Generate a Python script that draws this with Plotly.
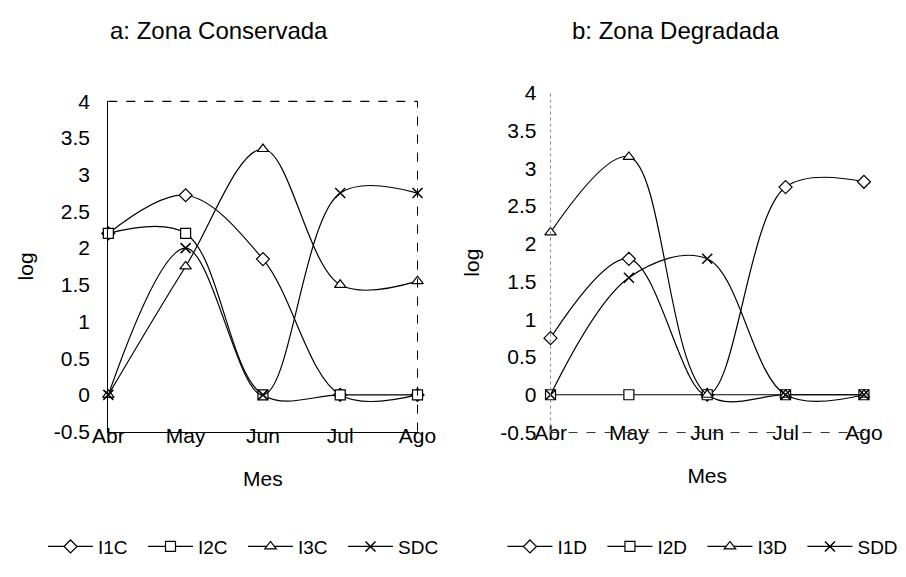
import plotly.graph_objects as go

months = ["Abr", "May", "Jun", "Jul", "Ago"]

# Zona Conservada
i1c = [2.2, 2.72, 1.85, 0.0, 0.0]
i2c = [2.2, 2.2, 0.0, 0.0, 0.0]
i3c = [0.0, 1.75, 3.35, 1.5, 1.55]
sdc = [0.0, 2.0, 0.0, 2.75, 2.75]

# Zona Degradada
i1d = [0.75, 1.8, 0.0, 2.75, 2.82]
i2d = [0.0, 0.0, 0.0, 0.0, 0.0]
i3d = [2.15, 3.15, 0.0, 0.0, 0.0]
sdd = [0.0, 1.55, 1.8, 0.0, 0.0]

ytick_vals = [-0.5, 0, 0.5, 1, 1.5, 2, 2.5, 3, 3.5, 4]
ytick_text = ["-0.5", "0", "0.5", "1", "1.5", "2", "2.5", "3", "3.5", "4"]

FONT = "Liberation Sans, Arial, sans-serif"
fig = go.Figure()

def add_series(name, vals, symbol, xa, ya, legend):
    fig.add_trace(go.Scatter(
        x=months, y=vals, name=name, mode="lines+markers",
        line=dict(color="black", width=1.2, shape="spline", smoothing=1.0),
        marker=dict(symbol=symbol, size=10, color="white",
                    line=dict(color="black", width=1.5 if symbol == "x-thin" else 1.2)),
        xaxis=xa, yaxis=ya, legend=legend, cliponaxis=False,
    ))

add_series("I1C", i1c, "diamond", "x", "y", "legend")
add_series("I2C", i2c, "square", "x", "y", "legend")
add_series("I3C", i3c, "triangle-up", "x", "y", "legend")
add_series("SDC", sdc, "x-thin", "x", "y", "legend")
add_series("I1D", i1d, "diamond", "x2", "y2", "legend2")
add_series("I2D", i2d, "square", "x2", "y2", "legend2")
add_series("I3D", i3d, "triangle-up", "x2", "y2", "legend2")
add_series("SDD", sdd, "x-thin", "x2", "y2", "legend2")

TICKFONT = dict(size=21, family=FONT, color="black")
TITLEFONT = dict(size=21, family=FONT, color="black")

xcommon = dict(type="category", range=[0, 4], showgrid=False, zeroline=False,
               linecolor="black", linewidth=1.3, ticks="",
               tickfont=TICKFONT, ticklabelstandoff=-15,
               title=dict(text="Mes", font=TITLEFONT, standoff=25))
ycommon = dict(range=[-0.5, 4], tickvals=ytick_vals, ticktext=ytick_text,
               showgrid=False, zeroline=False, ticks="",
               tickfont=TICKFONT, ticklabelstandoff=13,
               title=dict(text="log", font=TITLEFONT, standoff=14))

LEG = dict(orientation="h", yanchor="middle", xanchor="left", y=0.035,
           font=dict(size=19, family=FONT, color="black"),
           bgcolor="rgba(0,0,0,0)", itemwidth=45, entrywidth=40, entrywidthmode="pixels")

fig.update_layout(
    width=906, height=577, paper_bgcolor="white", plot_bgcolor="white",
    margin=dict(l=0, r=0, t=0, b=0),
    xaxis=dict(domain=[0.106, 0.461], anchor="y", showline=True, **xcommon),
    yaxis=dict(domain=[0.2426, 0.8388], anchor="x", showline=True,
               linecolor="black", linewidth=1.3, **ycommon),
    xaxis2=dict(domain=[0.6137, 0.9735], anchor="y2", showline=False, **xcommon),
    yaxis2=dict(domain=[0.2409, 0.8544], anchor="x2", showline=False, **ycommon),
    legend=dict(x=0.031, **LEG),
    legend2=dict(x=0.5585, **LEG),
    showlegend=True,
)

# frame: dashed top and right on panel a, faint dotted left and dashed bottom on panel b
fig.add_shape(type="line", xref="x domain", yref="y domain", x0=0, x1=1, y0=1, y1=1,
              line=dict(color="black", width=1.2, dash="dash"))
fig.add_shape(type="line", xref="x domain", yref="y domain", x0=1, x1=1, y0=0, y1=1,
              line=dict(color="black", width=1.0, dash="dash"))
fig.add_shape(type="line", xref="x2 domain", yref="y2 domain", x0=0, x1=0, y0=0, y1=1,
              line=dict(color="#888888", width=1.0, dash="dot"))
fig.add_shape(type="line", xref="x2 domain", yref="y2 domain", x0=0, x1=1, y0=0, y1=0,
              line=dict(color="#333333", width=1.0, dash="dash"))

fig.add_annotation(text="a: Zona Conservada", xref="paper", yref="paper",
                   x=0.233, y=0.967, xanchor="center", yanchor="middle", showarrow=False,
                   font=dict(size=24, family=FONT, color="black"))
fig.add_annotation(text="b: Zona Degradada", xref="paper", yref="paper",
                   x=0.757, y=0.967, xanchor="center", yanchor="middle", showarrow=False,
                   font=dict(size=24, family=FONT, color="black"))

fig.write_html("out.html")
